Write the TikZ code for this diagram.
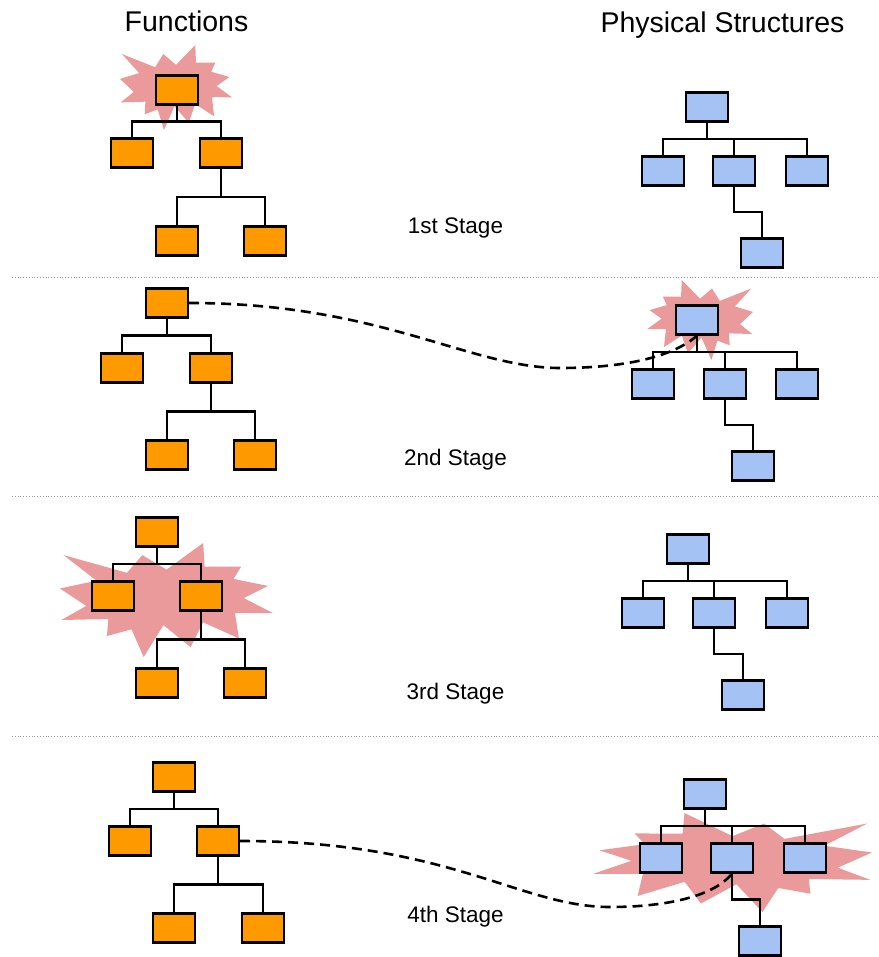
\documentclass[tikz,border=0pt]{standalone}
\usepackage{fontspec}
\setmainfont{Liberation Sans}
\usetikzlibrary{calc}
\definecolor{forange}{HTML}{FF9900}
\definecolor{pblue}{HTML}{A4C2F4}
\definecolor{burstc}{HTML}{EA9A9A}
\newcommand{\myburst}[4]{%
\begin{scope}[shift={(#1,#2)},xscale=#3,yscale=#4]
\fill[burstc] (0.5,0.2338) -- (0.6723,0) -- (0.6786,0.2085) -- (0.8509,0.2063) -- (0.8142,0.3145) -- (0.9767,0.3767) -- (0.8624,0.4828) -- (1,0.6153) -- (0.8214,0.6141) -- (0.8400,0.8377) -- (0.6715,0.6947) -- (0.6133,0.9137) -- (0.4857,0.7201) -- (0.3928,1) -- (0.3358,0.7570) -- (0.2205,0.8156) -- (0.2268,0.6670) -- (0.0063,0.6753) -- (0.1231,0.5519) -- (0,0.3988) -- (0.1713,0.3305) -- (0.0171,0.1063) -- (0.3143,0.2615) -- (0.3867,0.1063) -- cycle;
\end{scope}}
\begin{document}
\begin{tikzpicture}[x=1pt,y=-1pt,
  fnode/.style={draw, line width=2.4pt, fill=forange, minimum width=42pt, minimum height=29pt, inner sep=0pt},
  pnode/.style={fnode, fill=pblue},
  treelink/.style={line width=2.2pt, to path={|- ($(\tikztostart)!0.5!(\tikztotarget)$) -| (\tikztotarget)}},
  dashlink/.style={line width=2.6pt, dash pattern=on 10pt off 6pt},
  sepline/.style={black!40, line width=0.9pt, dash pattern=on 1pt off 1.8pt},
  title/.style={anchor=base, inner sep=0pt, font=\fontsize{28.5}{34}\selectfont},
  stagelabel/.style={anchor=base, inner sep=0pt, font=\fontsize{22.5}{27}\selectfont}]
\fill[white] (0,0) rectangle (878,957);
\useasboundingbox (0,0) rectangle (878,957);

% titles
\node[title] (tf) at (186.5,32) {Functions};
\node[title] (tp) at (722.5,33) {Physical Structures};

% separators
\draw[sepline] (12,277) -- (878,277);
\draw[sepline] (12,496) -- (878,496);
\draw[sepline] (12,736) -- (878,736);

% bursts
\myburst{120}{45}{112}{85}
\begin{scope}[shift={(753,280)},xscale=-1]\myburst{0}{0}{106}{80}\end{scope}
\myburst{60}{543}{213}{114}
\begin{scope}[shift={(872,813)},xscale=-1]\myburst{0}{0}{279}{99}\end{scope}

% stage labels
\node[stagelabel] (s1) at (455.5,234) {1st Stage};
\node[stagelabel] (s2) at (455.5,465) {2nd Stage};
\node[stagelabel] (s3) at (455.5,699) {3rd Stage};
\node[stagelabel] (s4) at (455.5,922) {4th Stage};

% stage 1
\node[fnode] (f1r) at (177,90) {};
\node[fnode] (f1a) at (132,153) {};
\node[fnode] (f1b) at (221,153) {};
\node[fnode] (f1c) at (177,241) {};
\node[fnode] (f1d) at (265,241) {};
\node[pnode] (p1r) at (707,107) {};
\node[pnode] (p1a) at (663,171) {};
\node[pnode] (p1b) at (734,171) {};
\node[pnode] (p1e) at (807,171) {};
\node[pnode] (p1c) at (762,253) {};

% stage 2
\node[fnode] (f2r) at (167,303) {};
\node[fnode] (f2a) at (122,368) {};
\node[fnode] (f2b) at (211,368) {};
\node[fnode] (f2c) at (167,455) {};
\node[fnode] (f2d) at (255,455) {};
\node[pnode] (p2r) at (697,320) {};
\node[pnode] (p2a) at (653,384) {};
\node[pnode] (p2b) at (725,384) {};
\node[pnode] (p2e) at (797,384) {};
\node[pnode] (p2c) at (753,466) {};

% stage 3
\node[fnode] (f3r) at (157,532) {};
\node[fnode] (f3a) at (113,596) {};
\node[fnode] (f3b) at (201,596) {};
\node[fnode] (f3c) at (157,683) {};
\node[fnode] (f3d) at (245,683) {};
\node[pnode] (p3r) at (688,549) {};
\node[pnode] (p3a) at (643,613) {};
\node[pnode] (p3b) at (714,613) {};
\node[pnode] (p3e) at (787,613) {};
\node[pnode] (p3c) at (743,695) {};

% stage 4
\node[fnode] (f4r) at (174,777) {};
\node[fnode] (f4a) at (130,841) {};
\node[fnode] (f4b) at (218,841) {};
\node[fnode] (f4c) at (174,928) {};
\node[fnode] (f4d) at (263,928) {};
\node[pnode] (p4r) at (705,794) {};
\node[pnode] (p4a) at (661,858) {};
\node[pnode] (p4b) at (732,858) {};
\node[pnode] (p4e) at (805,858) {};
\node[pnode] (p4c) at (760,941) {};

% tree connectors
\foreach \s in {1,2,3,4}{
  \draw[treelink] (f\s r.south) to (f\s a.north);
  \draw[treelink] (f\s r.south) to (f\s b.north);
  \draw[treelink] (f\s b.south) to (f\s c.north);
  \draw[treelink] (f\s b.south) to (f\s d.north);
  \draw[treelink] (p\s r.south) to (p\s a.north);
  \draw[treelink] (p\s r.south) to (p\s b.north);
  \draw[treelink] (p\s r.south) to (p\s e.north);
  \draw[treelink] (p\s b.south) to (p\s c.north);
}

% dashed links
\coordinate (m2) at (560,368);
\draw[dashlink] (f2r.east) .. controls (380,303) and (470,368) .. (m2) .. controls (630,368) and (675,355) .. (p2r.south);
\coordinate (m4) at (610,907);
\draw[dashlink] (f4b.east) .. controls (450,841) and (520,907) .. (m4) .. controls (670,907) and (715,895) .. (p4b.south);
\end{tikzpicture}
\end{document}
